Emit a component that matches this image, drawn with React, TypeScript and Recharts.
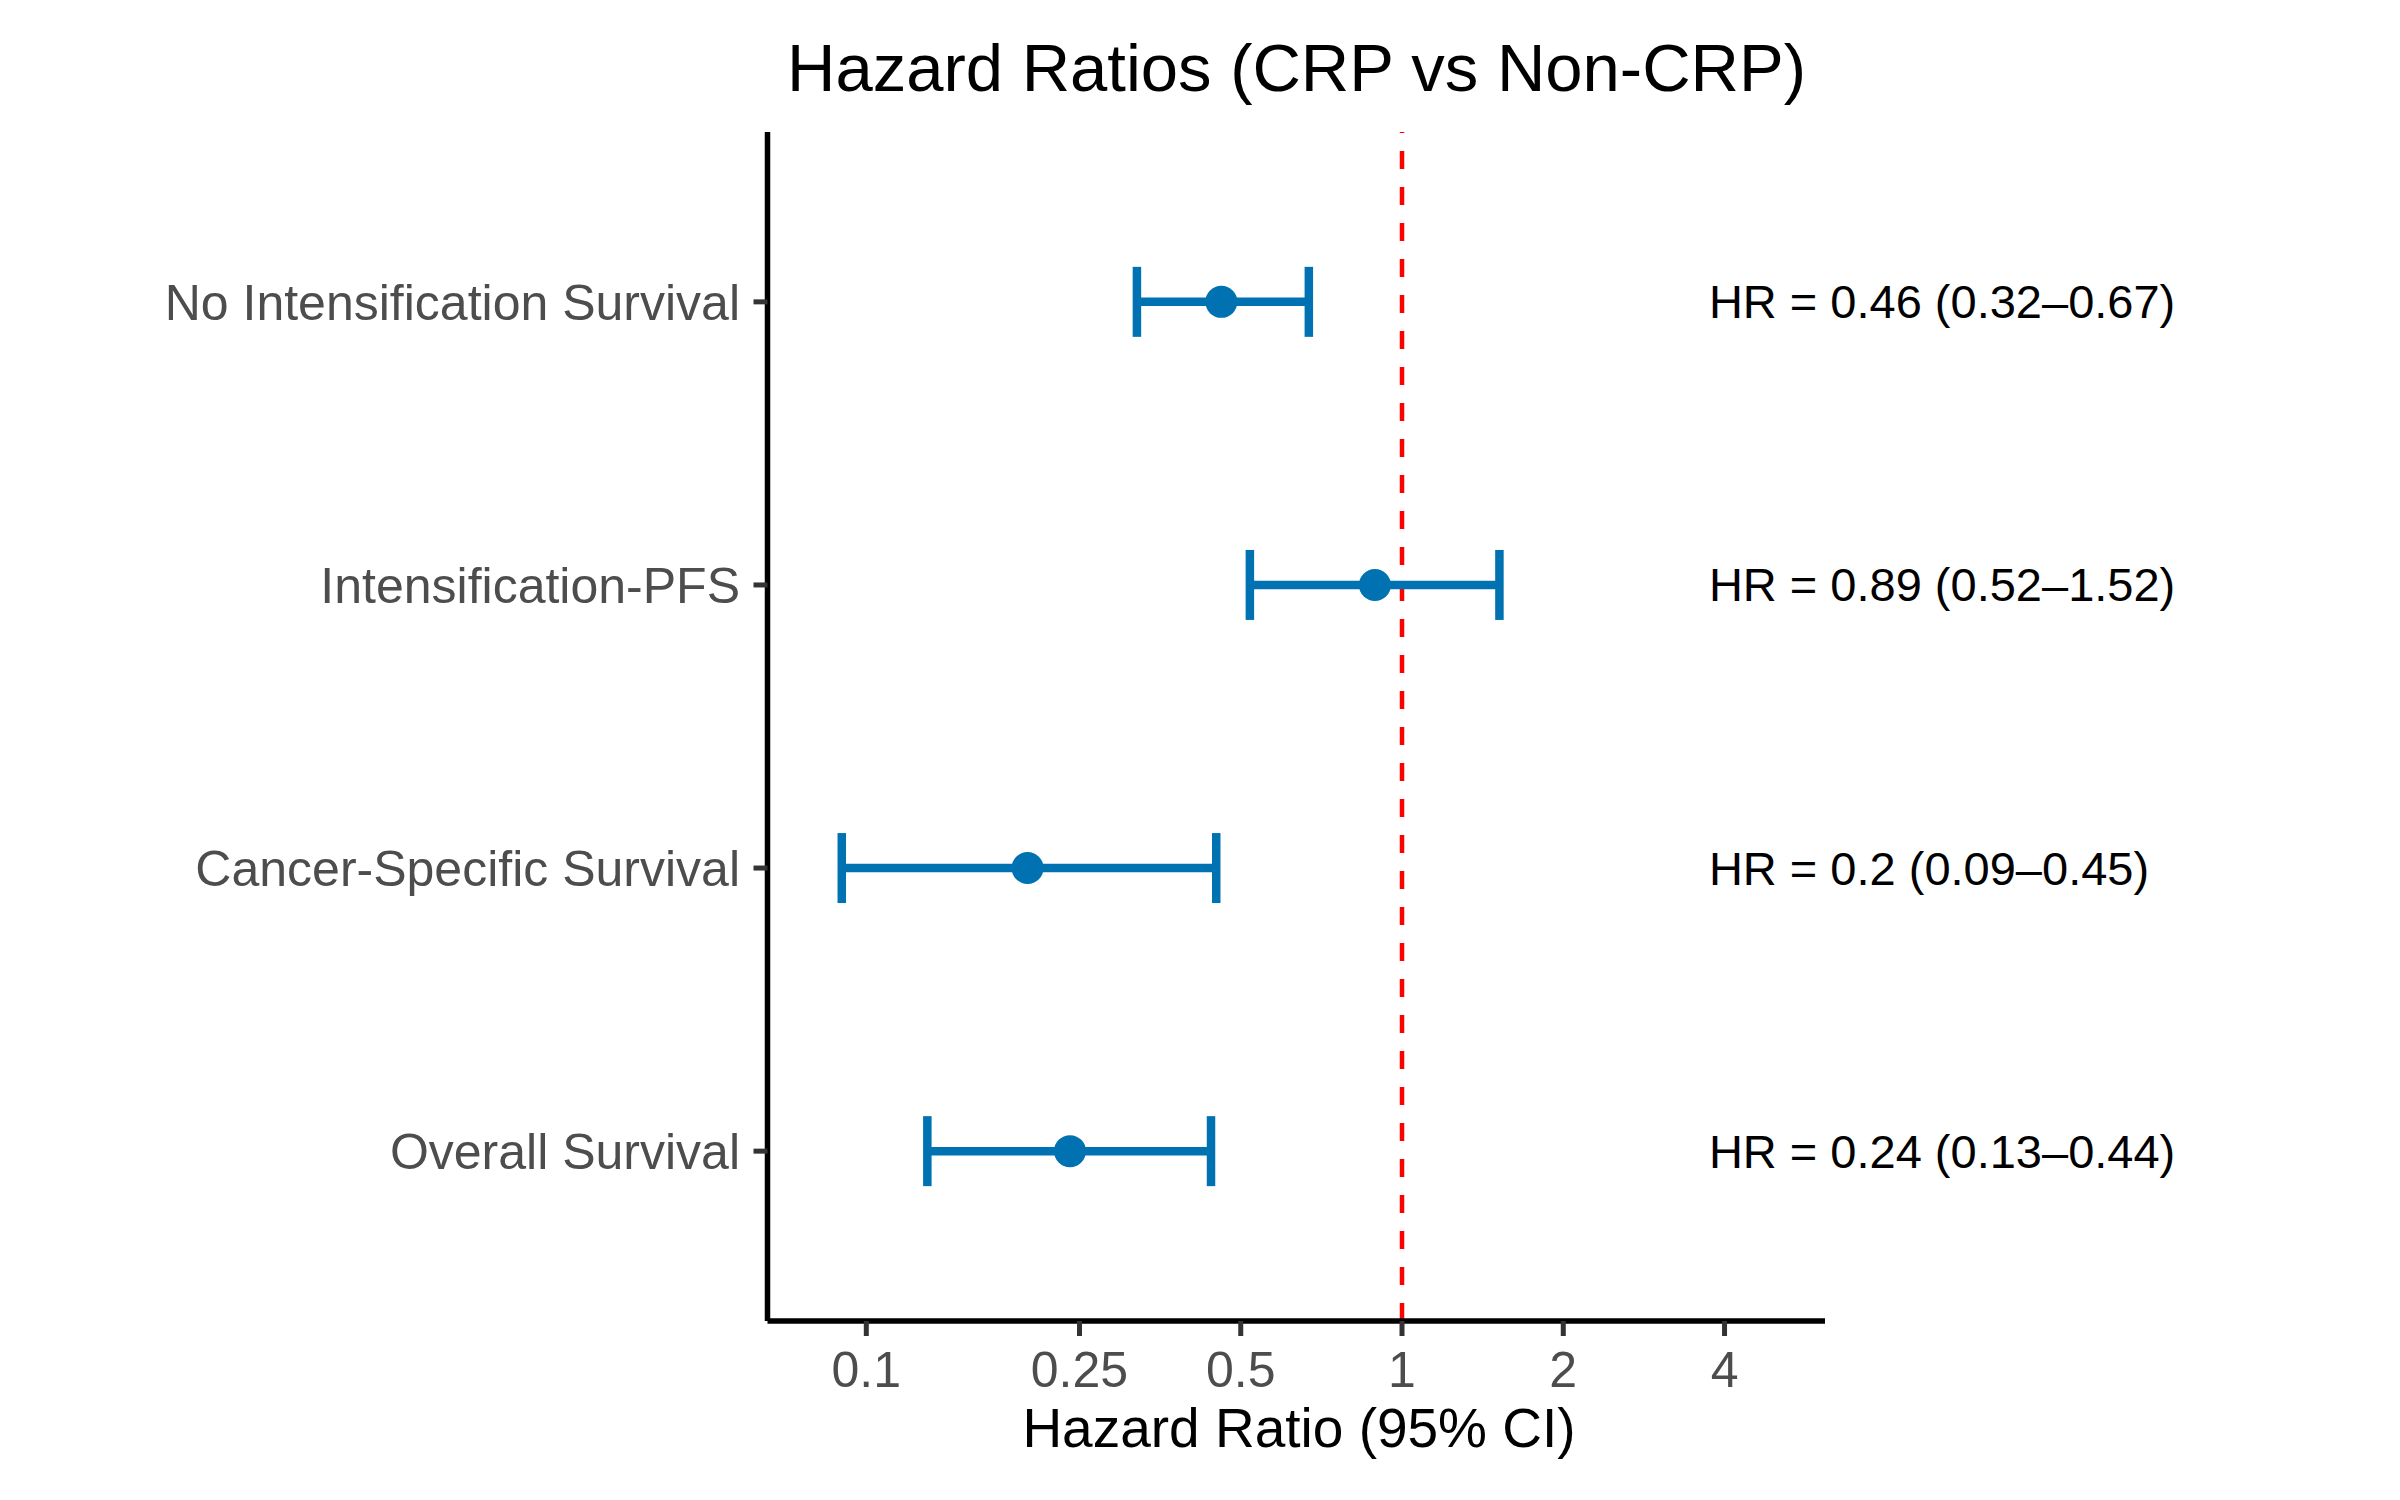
import React from 'react';
import { ScatterChart, Scatter, XAxis, YAxis, ErrorBar, ReferenceLine } from 'recharts';

// outcomes, top to bottom as drawn
const outcomes = ['No Intensification Survival', 'Intensification-PFS', 'Cancer-Specific Survival', 'Overall Survival'];
const hazard = [0.46, 0.89, 0.2, 0.24];
const lower = [0.32, 0.52, 0.09, 0.13];
const upper = [0.67, 1.52, 0.45, 0.44];

const xTicks = [0.1, 0.25, 0.5, 1, 2, 4];
const labelX = 3.74; // where the HR text column starts

const BLUE = '#0072B2';
const FONT = '"Liberation Sans", Arial, sans-serif';

// y position 4 = top row, 1 = bottom row
const rows = outcomes.map((name, i) => ({
  x: hazard[i],
  y: outcomes.length - i,
  err: [hazard[i] - lower[i], upper[i] - hazard[i]],
  name,
}));

const labelRows = outcomes.map((name, i) => ({
  x: labelX,
  y: outcomes.length - i,
  label: `HR = ${hazard[i]} (${lower[i]}–${upper[i]})`,
}));

const yName = (v: number) => outcomes[outcomes.length - v] ?? '';

export default function App() {
  return (
    <div style={{ position: 'absolute', left: 0, top: 0, width: 2400, height: 1500, background: '#fff' }}>
      <ScatterChart width={2400} height={1500} margin={{ top: 132, right: 575, left: 0, bottom: 0 }}>
        <XAxis
          dataKey="x"
          type="number"
          scale="log"
          domain={[0.0654, 6.16]}
          ticks={xTicks}
          height={179}
          axisLine={{ stroke: '#000', strokeWidth: 5.5 }}
          tickLine={{ stroke: '#333', strokeWidth: 5 }}
          tickSize={15}
          tickMargin={15.5}
          tick={{ fill: '#4D4D4D', fontSize: 50, fontFamily: FONT }}
          interval={0}
        />
        <YAxis
          dataKey="y"
          type="number"
          domain={[0.4, 4.6]}
          ticks={[1, 2, 3, 4]}
          tickFormatter={yName}
          width={767.5}
          axisLine={{ stroke: '#000', strokeWidth: 5.5 }}
          tickLine={{ stroke: '#333', strokeWidth: 5 }}
          tickSize={14}
          tickMargin={13.5}
          tick={{ fill: '#4D4D4D', fontSize: 50, fontFamily: FONT }}
          interval={0}
        />
        <ReferenceLine x={1} stroke="#FF0000" strokeWidth={4.5} strokeDasharray="18 18" />
        <Scatter
          data={rows}
          isAnimationActive={false}
          shape={(p: any) => <circle cx={p.cx} cy={p.cy} r={16} fill={BLUE} />}
        >
          <ErrorBar dataKey="err" direction="x" width={35} stroke={BLUE} strokeWidth={8.5} />
        </Scatter>
        <Scatter
          data={labelRows}
          isAnimationActive={false}
          shape={(p: any) => (
            <text x={p.cx} y={p.cy} dy={16.5} fontSize={47} fontFamily={FONT} fill="#000">
              {p.payload.label}
            </text>
          )}
        />
      </ScatterChart>
      <svg width={2400} height={1500} style={{ position: 'absolute', left: 0, top: 0, pointerEvents: 'none' }}>
        <text x={1296.5} y={90.5} textAnchor="middle" fontSize={67} fontFamily={FONT} fill="#000">
          Hazard Ratios (CRP vs Non-CRP)
        </text>
        <text x={1299} y={1447} textAnchor="middle" fontSize={55} fontFamily={FONT} fill="#000">
          Hazard Ratio (95% CI)
        </text>
      </svg>
    </div>
  );
}
